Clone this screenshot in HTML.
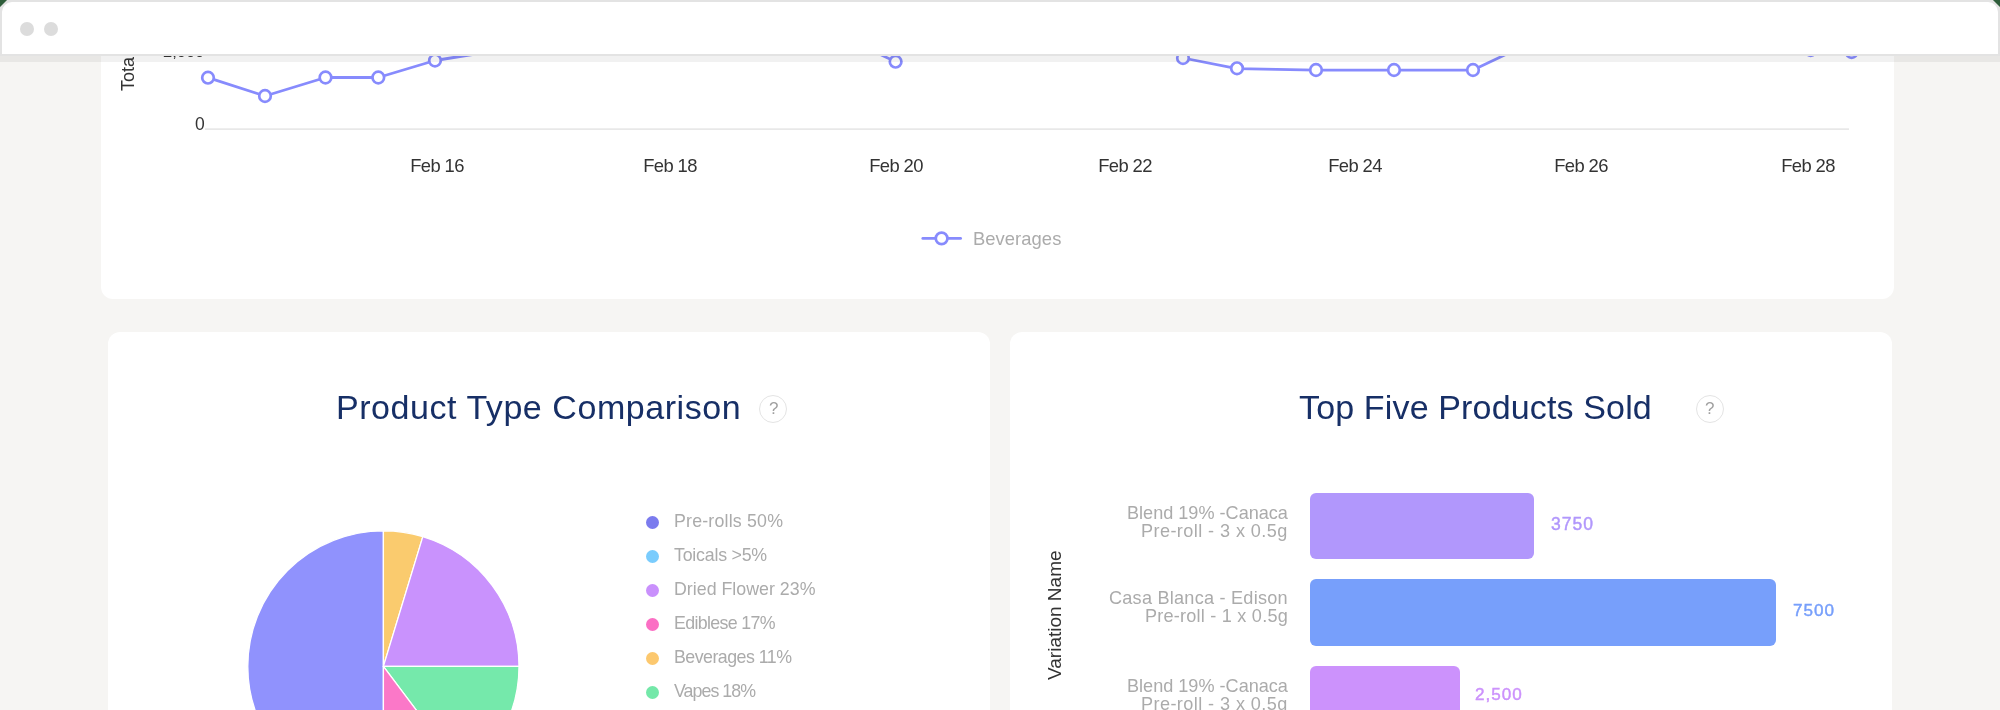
<!DOCTYPE html>
<html><head><meta charset="utf-8">
<style>
*{margin:0;padding:0;box-sizing:border-box}
html,body{width:2000px;height:710px;overflow:hidden}
body{background:#f6f5f3;font-family:"Liberation Sans",sans-serif;position:relative}
.a{position:absolute;line-height:1;white-space:nowrap;will-change:transform}
.card{position:absolute;background:#fff}
.xl{font-size:18.4px;color:#333;width:120px;text-align:center;letter-spacing:-0.6px}
.ttl{font-size:34px;color:#172f66}
.t1{letter-spacing:0.55px}.t2{letter-spacing:0.15px}
.q{position:absolute;width:28px;height:28px;border:1.5px solid #e4e4e4;border-radius:50%}
.qm{font-size:17px;color:#a0a0a0}
.lg{font-size:17.8px;color:#ababab;left:674px;letter-spacing:0.05px}
.dot{position:absolute;width:13.2px;height:13.2px;border-radius:50%;left:645.8px}
.bl{font-size:18.1px;color:#ababab;text-align:right;right:712.5px}
.bar{position:absolute;left:1309.7px;height:66.4px;border-radius:6px}
.val{font-size:17.5px;font-weight:normal;-webkit-text-stroke:0.45px currentColor}
</style></head><body>
<div class="card" style="left:100.5px;top:-40px;width:1793.5px;height:338.8px;border-radius:12px"></div>
<svg class="a" style="left:0;top:0" width="2000" height="300" viewBox="0 0 2000 300">
<line x1="205" y1="129.1" x2="1849" y2="129.1" stroke="#e8e8e8" stroke-width="1.8"/>
<g fill="none" stroke="#878bfd" stroke-width="2.8" stroke-linejoin="round">
<polyline points="208,77.7 265,96 325.5,77.5 378.3,77.5 435,60.5 600,34"/>
<polyline points="860,45 895.6,61.7"/>
<polyline points="1183,58 1237,68.6 1316,70.1 1394,70.1 1473,70.1 1530,43"/>
</g><g fill="#fff" stroke="#878bfd" stroke-width="2.7">
<circle cx="208" cy="77.7" r="5.8"/>
<circle cx="265" cy="96" r="5.8"/>
<circle cx="325.5" cy="77.5" r="5.8"/>
<circle cx="378.3" cy="77.5" r="5.8"/>
<circle cx="435" cy="60.5" r="5.8"/>
<circle cx="895.6" cy="61.7" r="5.8"/>
<circle cx="1183" cy="58" r="5.8"/>
<circle cx="1237" cy="68.3" r="5.8"/>
<circle cx="1316" cy="70" r="5.8"/>
<circle cx="1394" cy="70" r="5.8"/>
<circle cx="1473" cy="70" r="5.8"/>
<circle cx="1810.7" cy="50" r="5.8"/>
<circle cx="1851.6" cy="52" r="5.8"/>
</g>
<line x1="922.8" y1="238.4" x2="960.6" y2="238.4" stroke="#878bfd" stroke-width="2.8" stroke-linecap="round"/>
<circle cx="941.6" cy="238.4" r="5.8" fill="#fff" stroke="#878bfd" stroke-width="2.7"/>
</svg>
<div class="a" style="left:119.3px;top:91.4px;font-size:18px;color:#333;transform-origin:0 0;transform:rotate(-90deg)">Total Sales</div>
<div class="a" style="left:163px;top:43px;font-size:16.5px;color:#333">2,000</div>
<div class="a" style="left:194.5px;top:115.5px;font-size:17.5px;color:#333">0</div>
<div class="a xl" style="left:376.5px;top:157.2px">Feb 16</div>
<div class="a xl" style="left:609.5px;top:157.2px">Feb 18</div>
<div class="a xl" style="left:836.4px;top:157.2px">Feb 20</div>
<div class="a xl" style="left:1065.1px;top:157.2px">Feb 22</div>
<div class="a xl" style="left:1294.5px;top:157.2px">Feb 24</div>
<div class="a xl" style="left:1521.4px;top:157.2px">Feb 26</div>
<div class="a xl" style="left:1748.2px;top:157.2px">Feb 28</div>
<div class="a" style="left:973px;top:230.1px;font-size:18.4px;color:#ababab;letter-spacing:0.05px">Beverages</div>
<div class="card" style="left:108px;top:332.4px;width:882px;height:420px;border-radius:12px"></div>
<div class="a ttl t1" style="left:336px;top:390.3px">Product Type Comparison</div>
<div class="q" style="left:759px;top:394.5px"></div>
<div class="a qm" style="left:768.5px;top:399.7px">?</div>
<svg class="a" style="left:0;top:0" width="1000" height="710" viewBox="0 0 1000 710"><g stroke="#fff" stroke-width="1.3" stroke-linejoin="round">
<path fill="#9092fd" d="M383.4,666.4 L383.40,802.00 A135.6,135.6 0 0 1 383.40,530.80 Z"/>
<path fill="#facb6e" d="M383.4,666.4 L383.40,530.80 A135.6,135.6 0 0 1 422.82,536.66 Z"/>
<path fill="#c992fd" d="M383.4,666.4 L422.82,536.66 A135.6,135.6 0 0 1 519.00,666.40 Z"/>
<path fill="#75e9ab" d="M383.4,666.4 L519.00,666.40 A135.6,135.6 0 0 1 464.91,774.77 Z"/>
<path fill="#fb78c8" d="M383.4,666.4 L464.91,774.77 A135.6,135.6 0 0 1 383.40,802.00 Z"/>
</g></svg>
<div class="dot" style="top:516.0px;background:#7b7bee"></div>
<div class="a lg" style="top:512.5px;letter-spacing:0.19px">Pre-rolls 50%</div>
<div class="dot" style="top:550.0px;background:#7accfd"></div>
<div class="a lg" style="top:546.6px;letter-spacing:-0.22px">Toicals &gt;5%</div>
<div class="dot" style="top:584.0px;background:#c990fc"></div>
<div class="a lg" style="top:580.7px;letter-spacing:0.01px">Dried Flower 23%</div>
<div class="dot" style="top:618.0px;background:#fb6fc4"></div>
<div class="a lg" style="top:614.8px;letter-spacing:-0.65px">Ediblese 17%</div>
<div class="dot" style="top:652.0px;background:#fcc86e"></div>
<div class="a lg" style="top:648.9px;letter-spacing:-0.52px">Beverages 11%</div>
<div class="dot" style="top:686.0px;background:#74e8a9"></div>
<div class="a lg" style="top:683.0px;letter-spacing:-0.95px">Vapes 18%</div>
<div class="card" style="left:1010px;top:332.4px;width:882px;height:420px;border-radius:12px"></div>
<div class="a ttl t2" style="left:1299px;top:390.3px">Top Five Products Sold</div>
<div class="q" style="left:1695.5px;top:394.5px"></div>
<div class="a qm" style="left:1705px;top:399.7px">?</div>
<div class="a" style="left:1044.7px;top:679.7px;font-size:19px;color:#333;transform-origin:0 0;transform:rotate(-90deg)">Variation Name</div>
<div class="a bl" style="top:503.6px;letter-spacing:0px;right:712.50px">Blend 19% -Canaca</div>
<div class="a bl" style="top:521.6px;letter-spacing:0.42px;right:712.08px">Pre-roll - 3 x 0.5g</div>
<div class="a bl" style="top:588.6px;letter-spacing:0.24px;right:712.26px">Casa Blanca - Edison</div>
<div class="a bl" style="top:606.6px;letter-spacing:0.22px;right:712.28px">Pre-roll - 1 x 0.5g</div>
<div class="a bl" style="top:676.6px;letter-spacing:0px;right:712.50px">Blend 19% -Canaca</div>
<div class="a bl" style="top:694.6px;letter-spacing:0.42px;right:712.08px">Pre-roll - 3 x 0.5g</div>
<div class="bar" style="top:493px;width:224.2px;background:#b197fc"></div>
<div class="bar" style="top:579.4px;width:466.5px;background:#779ffb"></div>
<div class="bar" style="top:666px;width:150.6px;background:#cc92fc"></div>
<div class="a val" style="left:1550.8px;top:515.8px;font-size:17.5px;color:#b197fc;letter-spacing:1px">3750</div>
<div class="a val" style="left:1793.0px;top:602.2px;font-size:17.1px;color:#779ffb;letter-spacing:1px">7500</div>
<div class="a val" style="left:1474.6px;top:686.1px;font-size:17.1px;color:#cc92fc;letter-spacing:1px">2,500</div>
<div style="position:absolute;left:0;top:0;width:2000px;height:56px;background:#e3e3e3"></div>
<div style="position:absolute;left:0;top:0;width:9px;height:9px;background:linear-gradient(135deg,#2f5d3a 4.5px,transparent 5.5px)"></div>
<div style="position:absolute;right:0;top:0;width:9px;height:9px;background:linear-gradient(225deg,#2f5d3a 4.5px,transparent 5.5px)"></div>
<div style="position:absolute;left:2px;top:2px;width:1996px;height:52px;background:#fff;border-radius:10px 10px 0 0"></div>
<div style="position:absolute;left:0;top:56px;width:2000px;height:6px;background:rgba(0,0,0,0.055)"></div>
<div style="position:absolute;left:20px;top:22px;width:14px;height:14px;border-radius:50%;background:#dcdcdc"></div>
<div style="position:absolute;left:44px;top:22px;width:14px;height:14px;border-radius:50%;background:#dcdcdc"></div>
</body></html>
